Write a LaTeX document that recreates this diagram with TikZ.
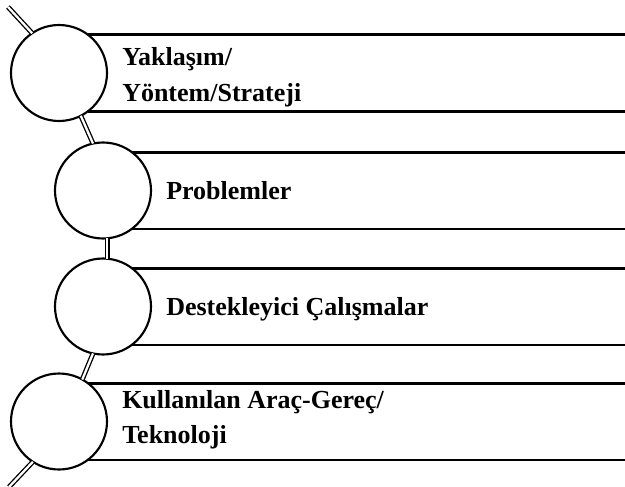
\documentclass[tikz,border=0pt]{standalone}
\usepackage{fontspec}
\setmainfont{Liberation Serif}
\begin{document}
\begin{tikzpicture}[x=0.75pt,y=-0.75pt,
  bubble/.style={circle,draw,line width=1.6pt,minimum size=72pt,inner sep=0pt,outer sep=0pt,fill=white},
  rule/.style={line width=2pt},
  spine/.style={double,line width=1pt,double distance=1.7pt},
  label/.style={anchor=base west,inner sep=0pt,font=\bfseries\fontsize{19.5}{24}\selectfont}]
\useasboundingbox (0,0) rectangle (625,486);
\coordinate (edge) at (625,0);
% circles
\node[bubble] (c1) at (59,73) {};
\node[bubble] (c2) at (103,190.5) {};
\node[bubble] (c3) at (103,306.5) {};
\node[bubble] (c4) at (59,421.5) {};
% horizontal rules beside each circle
\foreach \c in {c1,c2,c3,c4}{
  \draw[rule] (\c.53.3) -- (\c.53.3 -| edge);
  \draw[rule] (\c.-53.3) -- (\c.-53.3 -| edge);
}
% spine between the circles
\coordinate (top) at (8,7);
\coordinate (bottom) at (9,487);
\draw[spine] (top) -- (c1.124);
\draw[spine] (c1.-63) -- (c2.102);
\draw[spine] (c2.-85) -- (c3.85);
\draw[spine] (c3.-102.6) -- (c4.61);
\draw[spine] (c4.-123) -- (bottom);
% labels
\node[label] (t1a) at (122,65.7) {Yaklaşım/};
\node[label] (t1b) at (122,101.7) {Yöntem/Strateji};
\node[label] (t2) at (166,199) {Problemler};
\node[label] (t3) at (166,315) {Destekleyici Çalışmalar};
\node[label] (t4a) at (122,408) {Kullanılan Araç-Gereç/};
\node[label] (t4b) at (122,443) {Teknoloji};
\end{tikzpicture}
\end{document}
